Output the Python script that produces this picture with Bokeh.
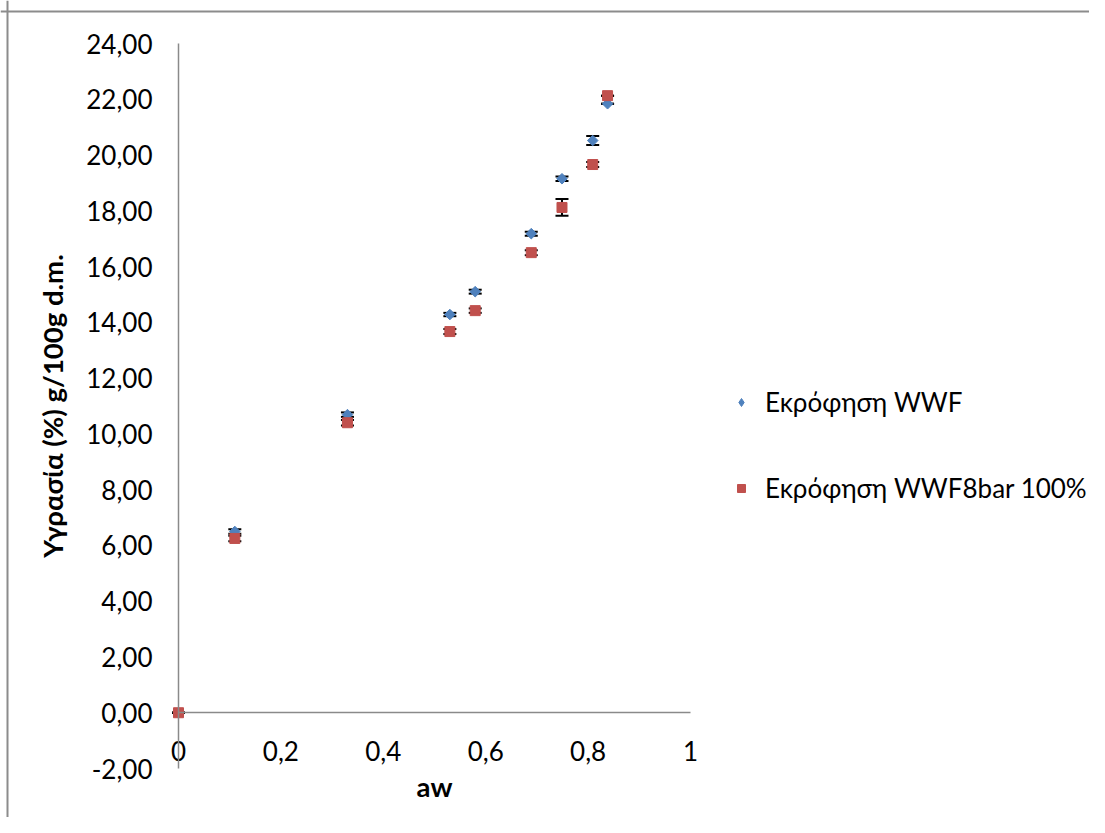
import numpy as np
from bokeh.plotting import figure
from bokeh.models import (ColumnDataSource, Whisker, TeeHead, Legend, LegendItem,
                          FixedTicker, Range1d, Span)
from bokeh.embed import file_html
from bokeh.resources import INLINE

# ---- data ----
aw = [0.0, 0.110, 0.330, 0.530, 0.5795, 0.689, 0.749, 0.809, 0.838]
wwf = [0.0, 6.50, 10.69, 14.28, 15.10, 17.18, 19.15, 20.52, 21.84]
wwf_err = [0.0, 0.08, 0.08, 0.06, 0.07, 0.07, 0.08, 0.16, 0.0]
wwf8 = [0.0, 6.25, 10.40, 13.67, 14.42, 16.50, 18.12, 19.66, 22.13]
wwf8_err = [0.0, 0.10, 0.10, 0.09, 0.08, 0.09, 0.30, 0.09, 0.0]

series_names = ["Εκρόφηση WWF", "Εκρόφηση WWF8bar 100%"]
x_ticks = [0, 0.2, 0.4, 0.6, 0.8, 1]
x_tick_labels = ["0", "0,2", "0,4", "0,6", "0,8", "1"]
y_ticks = [-2, 0, 2, 4, 6, 8, 10, 12, 14, 16, 18, 20, 22, 24]
y_tick_labels = ["-2,00", "0,00", "2,00", "4,00", "6,00", "8,00", "10,00", "12,00",
                 "14,00", "16,00", "18,00", "20,00", "22,00", "24,00"]
x_title = "aw"
y_title = "Υγρασία (%) g/100g d.m."

FONT = "Lato"
FS = "26px"
BLUE = "#4F81BD"
RED = "#C0504D"
AXIS = "#8a8a8a"

W, H = 1089, 817
# pixel geometry (picture coords): x=0 at 178, x=1 at 690; y=24 at 43, y=-2 at 768
PX_X = 512.0
PX_Y = (768 - 43) / 26.0
X0_PAGE = 178.0
Y0_PAGE = 768 - 2 * PX_Y
ORG = 0
x_lo = (ORG - X0_PAGE) / PX_X
x_hi = (ORG + W - X0_PAGE) / PX_X
y_hi = (Y0_PAGE - ORG) / PX_Y
y_lo = (Y0_PAGE - (ORG + H)) / PX_Y

p = figure(width=W, height=H, output_backend="svg", toolbar_location=None,
           x_range=Range1d(x_lo, x_hi), y_range=Range1d(y_lo, y_hi),
           min_border=0)
p.outline_line_color = None
p.grid.visible = False
p.background_fill_color = "white"
p.border_fill_color = "white"

# chart-area border (top and left edges visible in the reference)
p.add_layout(Span(location=(Y0_PAGE - 11) / PX_Y, dimension="width",
                  line_color="#8c8c8c", line_width=2))
p.add_layout(Span(location=(7 - X0_PAGE) / PX_X, dimension="height",
                  line_color="#8c8c8c", line_width=2))

# axes
p.xaxis.fixed_location = 0
p.yaxis.fixed_location = 0
p.xaxis.bounds = (0, 1)
p.yaxis.bounds = (-2, 24)
p.xaxis.ticker = FixedTicker(ticks=x_ticks)
p.yaxis.ticker = FixedTicker(ticks=y_ticks)
p.xaxis.major_label_overrides = {float(t): l for t, l in zip(x_ticks, x_tick_labels)}
p.yaxis.major_label_overrides = {float(t): l for t, l in zip(y_ticks, y_tick_labels)}
for ax in (p.xaxis, p.yaxis):
    ax.axis_line_color = AXIS
    ax.axis_line_width = 1.5
    ax.major_tick_line_color = None
    ax.minor_tick_line_color = None
    ax.major_tick_out = 0
    ax.major_tick_in = 0
    ax.major_label_text_font = FONT
    ax.major_label_text_font_size = FS
    ax.major_label_text_color = "black"
    ax.axis_label_text_font = FONT
    ax.axis_label_text_font_size = "27.5px"
    ax.axis_label_text_font_style = "bold"
    ax.axis_label_text_color = "black"
p.xaxis.axis_label = x_title
p.yaxis.axis_label = y_title
p.xaxis.major_label_standoff = 28
p.yaxis.major_label_standoff = 26
p.xaxis.axis_label_standoff = 6
p.yaxis.axis_label_standoff = 14

# data sources
s1 = ColumnDataSource(dict(x=aw, y=wwf,
                           lo=[a - b for a, b in zip(wwf, wwf_err)],
                           hi=[a + b for a, b in zip(wwf, wwf_err)]))
s2 = ColumnDataSource(dict(x=aw, y=wwf8,
                           lo=[a - b for a, b in zip(wwf8, wwf8_err)],
                           hi=[a + b for a, b in zip(wwf8, wwf8_err)]))

for s in (s1, s2):
    w = Whisker(base="x", lower="lo", upper="hi", source=s, dimension="height",
                line_color="black", line_width=2, level="underlay",
                upper_head=TeeHead(size=13, line_color="black", line_width=2),
                lower_head=TeeHead(size=13, line_color="black", line_width=2))
    p.add_layout(w)

r1 = p.scatter("x", "y", source=s1, marker="square", angle=np.pi / 4, size=7.5,
               fill_color=BLUE, line_color=BLUE)
r2 = p.scatter("x", "y", source=s2, marker="square", size=10,
               fill_color=RED, line_color=RED)
# hidden legend key for the diamond symbol (legend markers are never rotated)
r1_key = p.scatter("x", "y", source=s1, marker="diamond", size=10,
                   fill_color=BLUE, line_color=BLUE, visible=False)

legend = Legend(items=[LegendItem(label=series_names[0], renderers=[r1_key]),
                       LegendItem(label=series_names[1], renderers=[r2])],
                location=(731 - ORG, ORG + H - 504), orientation="vertical",
                label_text_font=FONT, label_text_font_size=FS,
                label_text_color="black", label_height=32, glyph_height=20,
                glyph_width=20, label_standoff=14, spacing=54, padding=0,
                margin=0, border_line_color=None, background_fill_alpha=0,
                inactive_fill_alpha=0, click_policy="none")
p.add_layout(legend, "center")

open("out.html", "w").write(file_html(p, INLINE))
